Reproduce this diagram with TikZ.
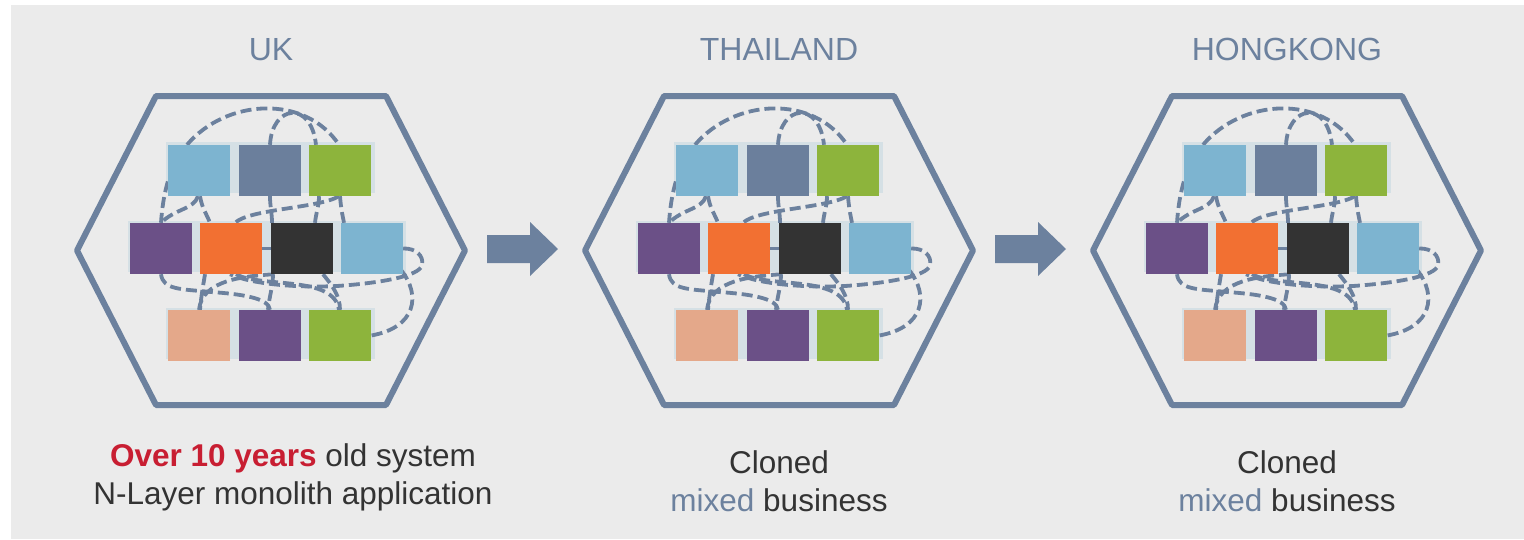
\documentclass[tikz,border=0pt]{standalone}
\usepackage{fontspec}
\setmainfont{Liberation Sans}

\definecolor{panelgray}{HTML}{EBEBEB}
\definecolor{slate}{HTML}{6C819E}
\definecolor{stripblue}{HTML}{D5E0E5}
\definecolor{skyblue}{HTML}{7DB4D0}
\definecolor{steel}{HTML}{6B7F9C}
\definecolor{leafgreen}{HTML}{8DB43C}
\definecolor{plum}{HTML}{6B5087}
\definecolor{tangerine}{HTML}{F27032}
\definecolor{charcoal}{HTML}{333333}
\definecolor{salmon}{HTML}{E4A88A}
\definecolor{textgray}{HTML}{333333}
\definecolor{alertred}{HTML}{C81E32}

\pgfdeclarelayer{back}
\pgfsetlayers{back,main}

\begin{document}
\begin{tikzpicture}[x=1pt,y=-1pt,
  box/.style={minimum width=62pt,minimum height=51pt,inner sep=0pt},
  link/.style={draw=slate,line width=3.8pt,dash pattern=on 11pt off 5pt},
  hexline/.style={draw=slate,line width=6pt,line join=round},
  title/.style={text=slate,font=\fontsize{32}{38}\selectfont,anchor=base,inner sep=0pt},
  caption/.style={text=textgray,font=\fontsize{31.5}{38}\selectfont,anchor=base,inner sep=0pt}]
\useasboundingbox (0,0) rectangle (1524,539);
\begin{pgfonlayer}{back}
\fill[white] (0,0) rectangle (1524,539);
\fill[panelgray] (11,5) rectangle (1524,539);
\end{pgfonlayer}
\foreach \cx/\hn/\ttl in {271/uk/UK,779/th/THAILAND,1287/hk/HONGKONG}{
\begin{scope}[shift={(\cx,0)}]
\node[title] (\hn-title) at (0,60) {\ttl};
\draw[hexline] (-115,96) -- (115,96) -- (194,250.5) -- (115,405) -- (-115,405) -- (-194,250.5) -- cycle;
\node[box,fill=skyblue] (\hn-t1) at (-72,170.5) {};
\node[box,fill=steel] (\hn-t2) at (-1,170.5) {};
\node[box,fill=leafgreen] (\hn-t3) at (69,170.5) {};
\node[box,fill=plum] (\hn-m1) at (-110,248.5) {};
\node[box,fill=tangerine] (\hn-m2) at (-40,248.5) {};
\node[box,fill=charcoal] (\hn-m3) at (31,248.5) {};
\node[box,fill=skyblue] (\hn-m4) at (101,248.5) {};
\node[box,fill=salmon] (\hn-b1) at (-72,335.5) {};
\node[box,fill=plum] (\hn-b2) at (-1,335.5) {};
\node[box,fill=leafgreen] (\hn-b3) at (69,335.5) {};
\begin{pgfonlayer}{back}
\fill[stripblue] (-105,142) rectangle (104,193);
\fill[stripblue] (-143,221) rectangle (135,272);
\fill[stripblue] (-105,308) rectangle (104,359);
\draw[link] ([xshift=-12pt]\hn-t1.north) .. controls +(39,-46) and +(-34,-51) .. ([xshift=-1pt]\hn-t3.north);
\draw[link] (\hn-t2.north) .. controls +(2,-40) and +(-5,-45) .. ([xshift=-24pt]\hn-t3.north);
\draw[link] ([yshift=-11pt]\hn-t1.west) .. controls +(-4,14) and +(1,-14) .. (\hn-m1.north);
\draw[link] ([xshift=-1pt]\hn-t1.south) .. controls +(-4,13) and +(14,-14) .. (\hn-m1.north);
\draw[link] ([xshift=1pt]\hn-t1.south) .. controls +(2,12) and +(-4,-10) .. ([xshift=-21pt]\hn-m2.north);
\draw[link] ([xshift=-1pt]\hn-t3.south) .. controls +(-20,12) and +(15,-14) .. ([xshift=4pt]\hn-m2.north);
\draw[link] (\hn-t2.south) .. controls +(0,10) and +(0,-10) .. ([xshift=-30pt]\hn-m3.north);
\draw[link] ([xshift=-21pt]\hn-t3.south) .. controls +(0,10) and +(1,-10) .. ([xshift=13pt]\hn-m3.north);
\draw[link] (\hn-t3.south) .. controls +(1,12) and +(-2,-10) .. ([xshift=-28pt]\hn-m4.north);
\draw[link] (\hn-m4.east) .. controls (145,248) and (153,256) .. (151,265) .. controls (149,276) and (110,283) .. (66,286) .. controls (25,288) and (-20,284) .. ([xshift=-1pt]\hn-m2.south);
\draw[link] ([xshift=-2pt,yshift=4pt]\hn-m4.south east) .. controls +(20,25) and +(45,-8) .. (\hn-b3.east);
\draw[link] (\hn-m1.south) .. controls (-108,290) and (-90,289) .. (-60,292) .. controls (-30,294) and (-2,298) .. (\hn-b2.north);
\draw[link] ([xshift=-26pt]\hn-m2.south) .. controls +(-2,12) and +(1,-12) .. ([xshift=1pt]\hn-b1.north);
\draw[link] ([xshift=-28pt]\hn-m3.south) .. controls +(-30,2) and +(3,-30) .. (\hn-b1.north);
\draw[link] ([xshift=-29pt]\hn-m3.south) .. controls +(0,12) and +(1,-12) .. ([xshift=-2pt]\hn-b2.north);
\draw[link] ([xshift=5pt]\hn-m2.south) .. controls +(25,14) and +(-5,-35) .. ([xshift=-1pt]\hn-b3.north);
\draw[link] ([xshift=21pt]\hn-m3.south) .. controls +(8,10) and +(0,-15) .. (\hn-b3.north);
\draw[link] (\hn-m2) -- (\hn-m3);
\end{pgfonlayer}
\end{scope}
}
\coordinate (uk-th) at (487,249);
\coordinate (th-hk) at (995,249);
\fill[slate] (uk-th) ++(0,-14) -- ++(43,0) -- ++(0,-13) -- ++(28,27) -- ++(-28,27) -- ++(0,-13) -- ++(-43,0) -- cycle;
\fill[slate] (th-hk) ++(0,-14) -- ++(43,0) -- ++(0,-13) -- ++(28,27) -- ++(-28,27) -- ++(0,-13) -- ++(-43,0) -- cycle;
\node[caption] (uk-line1) at (293,466) {\textcolor{alertred}{\bfseries Over 10 years} old system};
\node[caption] (uk-line2) at (293,504) {N-Layer monolith application};
\node[caption] (th-line1) at (779,473) {Cloned};
\node[caption] (th-line2) at (779,511) {\textcolor{slate}{mixed} business};
\node[caption] (hk-line1) at (1287,473) {Cloned};
\node[caption] (hk-line2) at (1287,511) {\textcolor{slate}{mixed} business};
\end{tikzpicture}
\end{document}
